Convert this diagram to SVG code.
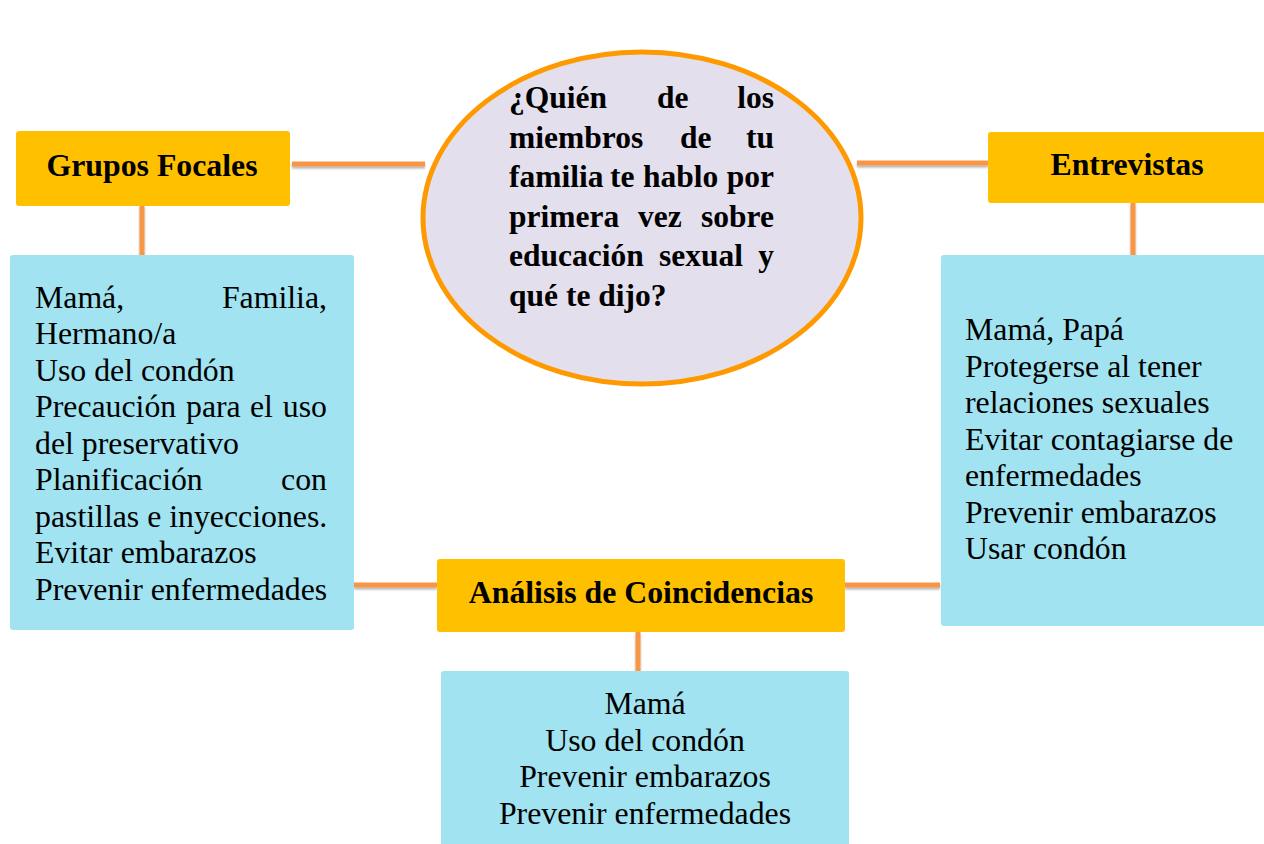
<svg xmlns="http://www.w3.org/2000/svg" width="1264" height="844" viewBox="0 0 1264 844">
<style>
.hdr{fill:#FFC000}
.lst{fill:#A1E3F0}
.conn line{stroke:#F79646;stroke-width:5;filter:url(#sh)}
.b{font-family:"Liberation Serif","Times New Roman",serif;font-weight:bold;font-size:31.8px;fill:#000}
.r{font-family:"Liberation Serif","Times New Roman",serif;font-size:31.8px;fill:#000}
.eb{font-family:"Liberation Serif","Times New Roman",serif;font-weight:bold;font-size:31.5px;fill:#000}
</style>
<defs>
<filter id="sh" filterUnits="userSpaceOnUse" x="0" y="0" width="1264" height="844">
<feDropShadow dx="0" dy="2" stdDeviation="1.2" flood-color="#000" flood-opacity="0.3"/>
</filter>
</defs>
<rect width="1264" height="844" fill="#fff"/>
<g class="conn" id="connectors">
<line x1="292" y1="164" x2="425" y2="164"/>
<line x1="857" y1="163" x2="988" y2="163"/>
<line x1="142" y1="206" x2="142" y2="257"/>
<line x1="1133" y1="203" x2="1133" y2="257"/>
<line x1="354" y1="585" x2="437" y2="585"/>
<line x1="845" y1="585" x2="940" y2="585"/>
<line x1="638" y1="632" x2="638" y2="672"/>
</g>
<g id="question">
<ellipse cx="642" cy="218" rx="219" ry="166" fill="#E4DFEC" stroke="#FF9900" stroke-width="5"/>
<text class="eb"><tspan x="509" y="108">¿Quién</tspan><tspan x="657" y="108">de</tspan><tspan x="774" y="108" text-anchor="end">los</tspan></text>
<text class="eb"><tspan x="509" y="147.5">miembros</tspan><tspan x="680" y="147.5">de</tspan><tspan x="774" y="147.5" text-anchor="end">tu</tspan></text>
<text class="eb"><tspan x="509" y="187">familia</tspan><tspan x="610" y="187">te</tspan><tspan x="643" y="187">hablo</tspan><tspan x="774" y="187" text-anchor="end">por</tspan></text>
<text class="eb"><tspan x="509" y="226.5">primera</tspan><tspan x="638" y="226.5">vez</tspan><tspan x="774" y="226.5" text-anchor="end">sobre</tspan></text>
<text class="eb"><tspan x="509" y="266">educación</tspan><tspan x="659" y="266">sexual</tspan><tspan x="774" y="266" text-anchor="end">y</tspan></text>
<text class="eb" x="509" y="305.5">qué te dijo?</text>
</g>
<g id="grupos-focales">
<rect class="hdr" x="16" y="131" width="274" height="75" rx="3"/>
<text class="b" x="152" y="176" text-anchor="middle">Grupos Focales</text>
</g>
<g id="entrevistas">
<rect class="hdr" x="988" y="132" width="280" height="71" rx="3"/>
<text class="b" x="1127" y="175" text-anchor="middle">Entrevistas</text>
</g>
<g id="grupos-list">
<rect class="lst" x="10" y="255" width="344" height="375" rx="3"/>
<text class="r"><tspan x="35" y="307.5">Mamá,</tspan><tspan x="327" y="307.5" text-anchor="end">Familia,</tspan></text>
<text class="r" x="35" y="344">Hermano/a</text>
<text class="r" x="35" y="380.5">Uso del condón</text>
<text class="r"><tspan x="35" y="417">Precaución</tspan><tspan x="186" y="417">para</tspan><tspan x="250" y="417">el</tspan><tspan x="327" y="417" text-anchor="end">uso</tspan></text>
<text class="r" x="35" y="453.5">del preservativo</text>
<text class="r"><tspan x="35" y="490">Planificación</tspan><tspan x="327" y="490" text-anchor="end">con</tspan></text>
<text class="r" x="35" y="526.5">pastillas e inyecciones.</text>
<text class="r" x="35" y="563">Evitar embarazos</text>
<text class="r" x="35" y="599.5">Prevenir enfermedades</text>
</g>
<g id="entrevistas-list">
<rect class="lst" x="941" y="255" width="327" height="371" rx="3"/>
<text class="r" x="965" y="340">Mamá, Papá</text>
<text class="r" x="965" y="376.5">Protegerse al tener</text>
<text class="r" x="965" y="413">relaciones sexuales</text>
<text class="r" x="965" y="449.5">Evitar contagiarse de</text>
<text class="r" x="965" y="486">enfermedades</text>
<text class="r" x="965" y="522.5">Prevenir embarazos</text>
<text class="r" x="965" y="559">Usar condón</text>
</g>
<g id="analisis">
<rect class="hdr" x="437" y="559" width="408" height="73" rx="3"/>
<text class="b" x="641" y="603" text-anchor="middle">Análisis de Coincidencias</text>
</g>
<g id="analisis-list">
<rect class="lst" x="441" y="671" width="408" height="180" rx="3"/>
<text class="r" x="645" y="714" text-anchor="middle">Mamá</text>
<text class="r" x="645" y="750.5" text-anchor="middle">Uso del condón</text>
<text class="r" x="645" y="787" text-anchor="middle">Prevenir embarazos</text>
<text class="r" x="645" y="823.5" text-anchor="middle">Prevenir enfermedades</text>
</g>
</svg>
